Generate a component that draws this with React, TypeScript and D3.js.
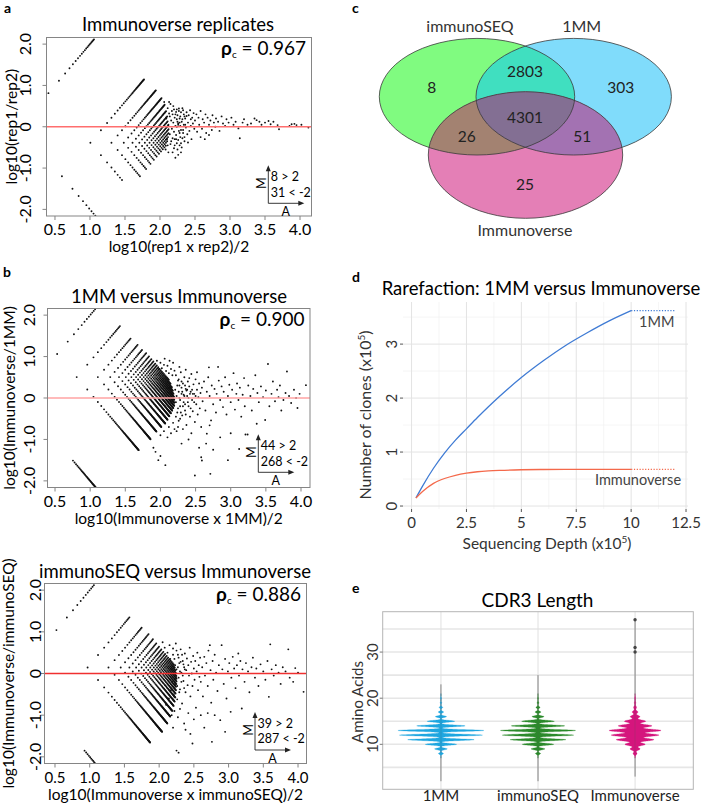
import React from "react";
import * as d3 from "d3";

const FONT = "Lato, 'Open Sans', 'DejaVu Sans', sans-serif";

// ================= MA plots (panels a, b) =================
// Observed count pairs stored as rows of integer count indices.
// count = unit * index ; index 0 -> pseudo count 1.
const maXTicks = [0.5, 1, 1.5, 2, 2.5, 3, 3.5, 4];
const maYTicks = [-2, -1, 0, 1, 2];
const maYTickLabels = ["-2.0", "-1.0", "0", "1.0", "2.0"];

// Panel a: Immunoverse replicates — rows: [rep2 index, rep1 index from, rep1 index to]
const repUnits = [6.5, 15.8];
const repRows = [
  [0, 1, 20], [1, 0, 34], [2, 0, 37], [3, 0, 36], [4, 0, 33], [5, 0, 29], [6, 0, 26],
  [7, 0, 23], [8, 0, 21], [9, 0, 0], [9, 2, 19], [10, 0, 0], [10, 2, 17], [11, 0, 0],
  [11, 2, 15], [12, 2, 13], [13, 2, 11],
];
const repScatter = [
  [2.06, 0.6], [2.08, -0.55], [2.09, 0.2], [2.1, -0.3], [2.11, 0.45], [2.12, -0.62], [2.12, 0.05],
  [2.13, 0.32], [2.14, -0.18], [2.15, 0.55], [2.15, -0.42], [2.16, 0.15], [2.17, -0.05], [2.17, 0.38],
  [2.18, -0.28], [2.19, 0.1], [2.19, 0.5], [2.2, -0.12], [2.2, -0.52], [2.21, 0.22], [2.22, 0.02],
  [2.23, 0.36], [2.23, -0.2], [2.24, -0.4], [2.25, 0.12], [2.25, 0.28], [2.26, -0.32], [2.27, 0.44],
  [2.27, -0.1], [2.28, 0.2], [2.29, -0.25], [2.29, 0.02], [2.3, 0.35], [2.31, -0.5], [2.32, 0.18],
  [2.33, -0.15], [2.34, 0.05], [2.35, 0.25], [2.11, -0.45], [2.13, 0.6], [2.14, 0.25], [2.16, -0.35],
  [2.18, 0.3], [2.21, -0.3], [2.24, 0.42], [2.26, 0.08], [2.28, -0.45], [2.3, -0.08], [2.33, 0.4],
  [2.35, -0.35],
  [2.18, -0.62], [2.2, 0.42], [2.21, -0.45], [2.22, 0.3], [2.23, -0.3], [2.24, 0.18], [2.25, -0.55],
  [2.26, 0.05], [2.27, 0.38], [2.28, -0.15], [2.29, 0.25], [2.3, -0.4], [2.31, 0.12], [2.32, 0.45],
  [2.33, -0.08], [2.34, 0.3], [2.35, -0.25], [2.36, 0.2], [2.37, -0.02], [2.38, 0.35], [2.39, -0.18],
  [2.4, 0.1], [2.41, 0.28], [2.42, -0.1], [2.43, 0.4], [2.44, 0.02], [2.45, -0.3], [2.46, 0.22],
  [2.47, 0.08], [2.48, 0.33], [2.49, -0.05], [2.5, 0.15], [2.22, -0.75], [2.26, -0.68], [2.3, -0.62],
  [2.24, 0.0], [2.28, 0.1], [2.32, -0.28], [2.36, 0.05], [2.4, -0.38], [2.44, 0.18], [2.38, 0.26],
  [2.52, 0.3], [2.53, -0.12], [2.55, 0.22], [2.56, 0.05], [2.58, 0.38], [2.6, -0.05], [2.61, 0.18],
  [2.63, 0.1], [2.65, 0.3], [2.66, -0.15], [2.68, 0.22], [2.7, 0.05], [2.72, 0.15], [2.74, -0.08],
  [2.75, 0.28], [2.77, 0.1], [2.79, 0.0], [2.8, 0.2], [2.83, 0.12], [2.85, -0.1], [2.88, 0.25],
  [2.9, 0.08], [2.93, 0.02], [2.95, 0.18], [2.98, 0.1], [2.58, -0.25], [2.64, -0.3], [2.7, -0.2],
  [3.02, 0.22], [3.05, 0.05], [3.08, 0.12], [3.12, -0.04], [3.14, -0.28], [3.18, 0.1], [3.2, 0.18],
  [3.25, 0.05], [3.3, 0.08], [3.35, 0.2], [3.38, 0.16], [3.42, 0.12], [3.45, 0.05], [3.5, 0.1],
  [3.55, 0.14], [3.58, 0.06], [3.62, 0.12], [3.68, 0.04], [3.7, -0.06], [3.85, 0.02], [3.88, 0.06],
  [3.92, 0.07], [3.95, 0.04], [4.02, 0.05], [4.12, -0.02],
];

// Panel b: 1MM vs Immunoverse — rows: [Immunoverse index, 1MM index from, 1MM index to]
const mmUnits = [11.5, 3.6];
const mmRows = [
  [0, 9, 45], [1, 0, 58], [2, 0, 63], [3, 0, 62], [4, 0, 64], [5, 0, 66], [6, 0, 64], [7, 0, 62],
  [8, 0, 60], [9, 0, 58], [10, 0, 56], [11, 0, 54], [12, 0, 50], [13, 0, 46], [14, 1, 42],
  [15, 1, 38], [16, 1, 34], [17, 1, 30], [18, 3, 26], [19, 5, 22],
];
const mmScatter = [
  [1.95, 0.9], [2.0, 0.85], [2.02, 0.72], [2.05, 0.8], [2.08, 0.65], [2.1, 0.78], [2.12, 0.6],
  [2.15, 0.7], [2.17, 0.55], [2.2, 0.66], [2.18, 0.85], [2.06, 0.95], [2.13, 0.9], [1.98, 0.7],
  [2.0, -0.9], [2.05, -0.8], [2.1, -0.95], [2.12, -0.7], [2.15, -0.85], [2.18, -0.6], [2.2, -0.75],
  [2.22, -0.45], [2.25, -0.7], [2.28, -0.5], [2.21, 0.2], [2.22, -0.1], [2.24, 0.3], [2.25, -0.25],
  [2.26, 0.45], [2.27, 0.0], [2.29, -0.35], [2.3, 0.4], [2.31, 0.15], [2.32, -0.2], [2.34, 0.05],
  [2.35, 0.3], [2.36, -0.4], [2.38, 0.2], [2.39, -0.1], [2.41, 0.48], [2.43, -0.25], [2.46, 0.1],
  [2.22, 0.55], [2.24, -0.35], [2.25, 0.42], [2.26, -0.55], [2.27, 0.3], [2.28, -0.2], [2.29, 0.62],
  [2.3, 0.1], [2.31, -0.42], [2.32, 0.35], [2.33, -0.1], [2.34, 0.5], [2.35, -0.3], [2.36, 0.22],
  [2.37, -0.65], [2.38, 0.05], [2.39, 0.4], [2.4, -0.2], [2.41, 0.28], [2.42, -0.45], [2.43, 0.15],
  [2.44, 0.58], [2.45, -0.05], [2.46, -0.32], [2.47, 0.33], [2.48, 0.1], [2.49, -0.58], [2.5, 0.45],
  [2.51, -0.15], [2.52, 0.2], [2.53, -0.4], [2.54, 0.02], [2.55, 0.35], [2.56, -0.25], [2.57, 0.12],
  [2.58, -0.7], [2.59, 0.25], [2.6, -0.08], [2.23, 0.05], [2.26, 0.15], [2.28, -0.05], [2.3, 0.25],
  [2.33, 0.08], [2.35, -0.15], [2.37, 0.18], [2.4, 0.0], [2.42, 0.1], [2.45, 0.2], [2.48, -0.1],
  [2.5, 0.05], [2.23, -0.8], [2.27, 0.75], [2.32, -0.75], [2.36, 0.68], [2.44, -0.85], [2.52, 0.62],
  [2.3, -1.1], [2.4, -1.0], [2.0, -1.4], [1.97, -1.5], [2.07, -1.62], [1.9, -1.2], [1.93, -1.3],
  [2.62, 0.4], [2.64, -0.3], [2.66, 0.15], [2.66, -0.86], [2.68, 0.5], [2.69, 0.74], [2.7, -0.66],
  [2.7, 0.05], [2.72, -0.54], [2.73, 0.3], [2.75, -0.15], [2.77, 0.22], [2.79, -0.35], [2.8, 0.1],
  [2.82, 0.75], [2.83, 0.42], [2.85, -0.05], [2.87, 0.28], [2.89, -0.22], [2.9, 0.15], [2.92, 0.5],
  [2.94, -0.4], [2.96, 0.05], [2.98, 0.32], [3.0, -0.1], [3.02, 0.2], [3.04, 0.6], [3.06, -0.28],
  [3.08, 0.1], [3.09, 0.35], [3.11, -0.05], [3.13, 0.25], [3.15, -0.45], [3.17, 0.08], [3.19, 0.48],
  [3.2, -0.2], [3.21, -0.88], [3.24, -0.88], [3.25, 0.3], [3.28, 0.05], [3.3, -0.3], [3.32, 0.22],
  [3.35, 0.55], [3.37, -0.62], [3.38, 0.12], [3.4, -0.1], [3.43, 0.28], [3.46, 0.02], [3.49, -0.53],
  [3.5, 0.18], [3.53, 0.82], [3.55, -0.2], [3.58, 0.1], [3.6, 0.4], [3.63, -0.08], [3.66, 0.2],
  [3.68, 0.02], [3.7, 0.3], [3.72, -0.3], [3.75, -0.05], [3.78, 0.12], [3.8, 0.64], [3.83, 0.05],
  [3.86, -0.12], [3.9, 0.2], [3.93, 0.0], [3.95, -0.24], [3.98, 0.1], [4.07, 0.31],
  [2.58, -1.43], [2.59, -1.51], [2.71, -1.83], [2.96, -1.5], [3.12, -1.23], [2.49, -1.87],
  [2.65, -1.1], [2.85, -0.95], [2.55, -1.2], [3.0, -0.85], [2.75, -1.25],
];

// Panel b (lower): immunoSEQ vs Immunoverse — rows: [Immunoverse index, immunoSEQ index from, to]
const seqUnits = [11, 7.9];
const seqRows = [
  [0, 9, 20], [1, 0, 63], [2, 0, 70], [3, 0, 66], [4, 0, 60], [5, 0, 55], [6, 0, 50], [7, 0, 46],
  [8, 0, 42], [9, 0, 38], [10, 0, 35], [11, 0, 32], [12, 0, 30], [13, 1, 28], [14, 1, 26],
  [15, 1, 24], [16, 1, 22], [17, 2, 20], [18, 2, 18], [19, 3, 16],
];
const seqScatter = [
  [2.05, 0.75], [2.08, 0.62], [2.1, -0.75], [2.12, 0.5], [2.14, -0.6], [2.15, 0.68], [2.16, 0.35],
  [2.17, -0.4], [2.18, 0.1], [2.19, -0.2], [2.2, 0.45], [2.21, 0.0], [2.22, -0.55], [2.23, 0.2],
  [2.24, -0.1], [2.25, 0.55], [2.26, -0.3], [2.27, 0.15], [2.28, 0.38], [2.29, -0.45], [2.3, 0.05],
  [2.31, 0.28], [2.32, -0.2], [2.33, 0.45], [2.34, -0.05], [2.35, 0.22], [2.36, -0.35], [2.37, 0.1],
  [2.2, 0.6], [2.21, -0.5], [2.22, 0.35], [2.23, -0.25], [2.24, 0.72], [2.25, 0.1], [2.26, -0.62],
  [2.27, 0.45], [2.28, -0.1], [2.29, 0.25], [2.3, -0.38], [2.31, 0.58], [2.32, 0.02], [2.33, -0.72],
  [2.34, 0.3], [2.35, -0.18], [2.36, 0.15], [2.37, 0.48], [2.38, -0.45], [2.39, 0.08], [2.4, 0.36],
  [2.41, -0.28], [2.42, 0.2], [2.43, -0.05], [2.44, 0.62], [2.45, -0.55], [2.46, 0.28], [2.47, 0.0],
  [2.48, -0.3], [2.49, 0.42], [2.5, 0.12], [2.51, -0.15], [2.52, 0.3], [2.53, -0.82], [2.54, 0.05],
  [2.55, 0.5], [2.56, -0.4], [2.57, 0.2], [2.58, -0.08], [2.59, 0.38], [2.6, -0.2],
  [2.22, -0.9], [2.27, -1.05], [2.3, -0.85], [2.36, -1.2], [2.42, -0.95], [2.25, -1.85], [2.28, -1.9],
  [2.38, -1.35], [2.48, -1.68], [2.5, -1.1], [2.45, -1.45], [2.18, -1.0], [2.2, -1.3],
  [2.62, 0.15], [2.63, -0.55], [2.65, 0.4], [2.66, -0.05], [2.68, 0.25], [2.7, -0.3], [2.71, 0.55],
  [2.73, 0.68], [2.74, 0.08], [2.75, -0.7], [2.77, 0.3], [2.78, -0.15], [2.8, 0.45], [2.82, 0.02],
  [2.84, -0.42], [2.86, 0.2], [2.88, -1.12], [2.9, 0.68], [2.91, 0.1], [2.93, -0.25], [2.95, 0.35],
  [2.97, -0.6], [2.99, 0.05], [3.01, 0.25], [3.03, -0.92], [3.04, -0.1], [3.06, 0.4], [3.08, 0.12],
  [3.1, -0.35], [3.12, 0.2], [3.14, 0.48], [3.15, -0.05], [3.17, 0.3], [3.19, -0.84], [3.2, 0.1],
  [2.76, -1.64], [2.65, -1.3], [2.8, -1.0], [2.95, -1.4], [2.6, -1.0], [2.7, -0.95],
  [3.23, -0.2], [3.25, 0.25], [3.28, 0.05], [3.3, -0.45], [3.33, 0.15], [3.35, 0.38], [3.38, -0.1],
  [3.4, 0.12], [3.43, -0.3], [3.46, 0.22], [3.5, 0.05], [3.53, -0.15], [3.56, 0.3], [3.58, -0.56],
  [3.6, 0.7], [3.62, 0.1], [3.65, -0.05], [3.68, 0.2], [3.72, 0.02], [3.75, -0.25], [3.78, 0.15],
  [3.82, 0.05], [3.86, 0.58], [3.88, -0.1], [3.93, -0.2], [3.96, 0.13], [4.0, 0.02], [4.08, -0.44],
];

// ================= Venn (panel c) =================
const vennSetNames = ["immunoSEQ", "1MM", "Immunoverse"];
const vennRegionCounts = [8, 303, 25, 2803, 26, 51, 4301]; // S only, M only, I only, S∩M, S∩I, M∩I, all

// ================= Rarefaction (panel d) =================
const rfDepth = [0.2, 0.5, 1, 1.5, 2, 2.5, 3, 3.5, 4, 5, 6, 7, 8, 9, 10];
const rf1MM = [0.15, 0.37, 0.7, 0.98, 1.22, 1.43, 1.64, 1.84, 2.03, 2.38, 2.69, 2.97, 3.21, 3.43, 3.62];
const rfImmunoverse = [0.15, 0.27, 0.42, 0.51, 0.57, 0.61, 0.635, 0.65, 0.66, 0.672, 0.677, 0.679, 0.68, 0.68, 0.68];
const rfExtrapDepth = [10, 12];
const rf1MMExtrap = [3.62, 3.62];
const rfImmunoverseExtrap = [0.68, 0.68];
const rfXTicks = [0, 2.5, 5, 7.5, 10, 12.5];
const rfYTicks = [0, 1, 2, 3];

// ================= CDR3 length (panel e) =================
const cdrCats = ["1MM", "immunoSEQ", "Immunoverse"];
const cdrLengths = [8, 9, 10, 11, 12, 13, 14, 15, 16, 17, 18, 19, 20];
const cdrPct1MM = [1.3, 3.3, 8.2, 17.3, 21.6, 22.4, 12.6, 7.2, 2.9, 1.4, 0.9, 0.4, 0.3];
const cdrPctSEQ = [1.4, 3.8, 8.7, 15.3, 19.6, 20.7, 14.7, 9.0, 3.3, 1.6, 1.1, 0.5, 0.3];
const cdrPctIV = [1.6, 4.1, 8.2, 15.2, 19.3, 21.0, 13.6, 8.6, 3.9, 2.3, 1.2, 0.6, 0.4];
const cdrRange = [[2, 23], [2, 25], [3, 37]];
const cdrOutliersIV = [30, 31, 37];
const cdrYTicks = [10, 20, 30];

// ---------- helpers ----------
function latticePoints(rows: number[][], units: number[], fixedIsNumerator: boolean) {
  const pts: number[][] = [];
  for (const [f, a, b] of rows) {
    for (let k = a; k <= b; k++) {
      const i = fixedIsNumerator ? f : k;
      const j = fixedIsNumerator ? k : f;
      const c1 = i === 0 ? 1 : units[0] * i;
      const c2 = j === 0 ? 1 : units[1] * j;
      const l1 = Math.log10(c1), l2 = Math.log10(c2);
      pts.push([(l1 + l2) / 2, l1 - l2]);
    }
  }
  return pts;
}

function VText(props: any) {
  const { x, y, children, ...rest } = props;
  return (
    <text transform={`translate(${x},${y}) rotate(-90)`} textAnchor="middle" dy="0.35em" {...rest}>
      {children}
    </text>
  );
}

type MACfg = {
  id: string; title: string; titleX: number; titleY: number;
  box: number[]; xDomain: number[];
  xLabel: string; yLabel: string;
  xTickBase: number; xTickSize: number; xLabelBase: number; yTickX: number; yLabelX: number;
  rho: string; over: string; under: string; legend: number[];
  red: string; redW: number; pts: number[][];
};

function MAPanel({ c }: { c: MACfg }) {
  const [x0, y0, x1, y1] = c.box;
  const x = d3.scaleLinear().domain(c.xDomain).range([x0, x1]);
  const y = d3.scaleLinear().domain([-2.16, 2.16]).range([y1, y0]);
  const [lx, ly] = c.legend;
  return (
    <g>
      <defs>
        <clipPath id={`clip-${c.id}`}>
          <rect x={x0} y={y0} width={x1 - x0} height={y1 - y0} />
        </clipPath>
      </defs>
      <text x={c.titleX} y={c.titleY} textAnchor="middle" fontSize={18.5}>{c.title}</text>
      <g clipPath={`url(#clip-${c.id})`}>
        {c.pts.map((p, k) => (
          <circle key={k} cx={x(p[0])} cy={y(p[1])} r={0.95} fill="#111" />
        ))}
        <line x1={x0} x2={x1} y1={y(0)} y2={y(0)} stroke={c.red} strokeWidth={c.redW} />
      </g>
      <rect x={x0} y={y0} width={x1 - x0} height={y1 - y0} fill="none" stroke="#858585" strokeWidth={1} />
      {maXTicks.map((t) => (
        <g key={t}>
          <line x1={x(t)} x2={x(t)} y1={y1} y2={y1 + 4} stroke="#858585" />
          <text x={x(t)} y={c.xTickBase} textAnchor="middle" fontSize={c.xTickSize}>{t.toFixed(1)}</text>
        </g>
      ))}
      {maYTicks.map((t, k) => (
        <g key={t}>
          <line x1={x0 - 4} x2={x0} y1={y(t)} y2={y(t)} stroke="#858585" />
          <VText x={c.yTickX} y={y(t)} fontSize={16}>{maYTickLabels[k]}</VText>
        </g>
      ))}
      <text x={(x0 + x1) / 2} y={c.xLabelBase} textAnchor="middle" fontSize={15.5}>{c.xLabel}</text>
      <VText x={c.yLabelX} y={(y0 + y1) / 2} fontSize={15.5}>{c.yLabel}</VText>
      <text x={x1 - 5.5} y={y0 + 17.5} textAnchor="end" fontSize={19}>
        <tspan fontWeight="bold">ρ</tspan>
        <tspan fontSize={10} dy={3}>c</tspan>
        <tspan dy={-3}>{` = ${c.rho}`}</tspan>
      </text>
      <g stroke="#222" strokeWidth={0.9}>
        <line x1={lx} y1={ly} x2={lx} y2={ly - 34} />
        <line x1={lx} y1={ly} x2={lx + 32} y2={ly} />
      </g>
      <path d={`M${lx},${ly - 38} l-2.5,6 h5 z`} fill="#222" />
      <path d={`M${lx + 36},${ly} l-6,-2.5 v5 z`} fill="#222" />
      <text x={lx + 2.5} y={ly - 26.5} dy="0.35em" fontSize={12.5}>{c.over}</text>
      <text x={lx + 2.5} y={ly - 11} dy="0.35em" fontSize={12.5}>{c.under}</text>
      <VText x={lx - 6.5} y={ly - 20} fontSize={12.5}>M</VText>
      <text x={lx + 17.5} y={ly + 8.5} dy="0.35em" textAnchor="middle" fontSize={12.5}>A</text>
    </g>
  );
}

function VennPanel() {
  const G = { cx: 477, cy: 96.7, rx: 97.7, ry: 58.3 };
  const B = { cx: 573.7, cy: 96.7, rx: 97.7, ry: 58.3 };
  const P = { cx: 525.5, cy: 155, rx: 97.2, ry: 63.3 };
  const e = (o: any, fill: string, extra: any = {}) => (
    <ellipse cx={o.cx} cy={o.cy} rx={o.rx} ry={o.ry} fill={fill} {...extra} />
  );
  const regionPos = [
    [431.7, 87.3], [620.7, 87.3], [525, 185], [525, 71.7], [466.7, 136.7], [582.3, 136.7], [525, 117.3],
  ];
  const setPos = [[470, 26.7], [581.7, 26.7], [525, 230]];
  return (
    <g>
      <defs>
        <clipPath id="venn-g">{e(G, "#000")}</clipPath>
        <clipPath id="venn-b">{e(B, "#000")}</clipPath>
      </defs>
      {e(G, "#80fb80")}
      {e(B, "#80dcfb")}
      {e(B, "#40dfc0", { clipPath: "url(#venn-g)" })}
      {e(P, "#e47fb6")}
      {e(P, "#a38271", { clipPath: "url(#venn-g)" })}
      {e(P, "#a372b2", { clipPath: "url(#venn-b)" })}
      <g clipPath="url(#venn-g)">{e(P, "#836f93", { clipPath: "url(#venn-b)" })}</g>
      {[G, B, P].map((o, k) => (
        <ellipse key={k} cx={o.cx} cy={o.cy} rx={o.rx} ry={o.ry} fill="none" stroke="#3a3a3a" strokeWidth={0.8} />
      ))}
      {vennRegionCounts.map((v, k) => (
        <text key={k} x={regionPos[k][0]} y={regionPos[k][1]} dy="0.35em" textAnchor="middle" fontSize={15.5} fill="#222">{v}</text>
      ))}
      {vennSetNames.map((n, k) => (
        <text key={n} x={setPos[k][0]} y={setPos[k][1]} dy="0.35em" textAnchor="middle" fontSize={16} fill="#333">{n}</text>
      ))}
    </g>
  );
}

function RarefactionPanel() {
  const x0 = 403, x1 = 688, y0 = 302, y1 = 509;
  const x = d3.scaleLinear().domain([-0.39, 12.59]).range([x0, x1]);
  const y = d3.scaleLinear().domain([-0.055, 3.78]).range([y1, y0]);
  const line = d3.line<number[]>().x((d) => x(d[0])).y((d) => y(d[1])).curve(d3.curveMonotoneX);
  const s1 = rfDepth.map((d, i) => [d, rf1MM[i]]);
  const s2 = rfDepth.map((d, i) => [d, rfImmunoverse[i]]);
  const e1 = rfExtrapDepth.map((d, i) => [d, rf1MMExtrap[i]]);
  const e2 = rfExtrapDepth.map((d, i) => [d, rfImmunoverseExtrap[i]]);
  const minorX = [1.25, 3.75, 6.25, 8.75, 11.25];
  const minorY = [0.5, 1.5, 2.5, 3.5];
  return (
    <g>
      <text x={541} y={295} textAnchor="middle" fontSize={18.5}>Rarefaction: 1MM versus Immunoverse</text>
      {minorX.map((t) => <line key={"mx" + t} x1={x(t)} x2={x(t)} y1={y0} y2={y1} stroke="#f0f0f0" strokeWidth={0.7} />)}
      {minorY.map((t) => <line key={"my" + t} x1={x0} x2={x1} y1={y(t)} y2={y(t)} stroke="#f0f0f0" strokeWidth={0.7} />)}
      {rfXTicks.map((t) => <line key={"gx" + t} x1={x(t)} x2={x(t)} y1={y0} y2={y1} stroke="#e3e3e3" strokeWidth={1} />)}
      {rfYTicks.map((t) => <line key={"gy" + t} x1={x0} x2={x1} y1={y(t)} y2={y(t)} stroke="#e3e3e3" strokeWidth={1} />)}
      <path d={line(s1) || ""} fill="none" stroke="#3f7bd4" strokeWidth={1.3} />
      <path d={line(s2) || ""} fill="none" stroke="#f4694b" strokeWidth={1.3} />
      <path d={line(e1) || ""} fill="none" stroke="#3f7bd4" strokeWidth={1.1} strokeDasharray="1.2,1.6" />
      <path d={line(e2) || ""} fill="none" stroke="#f4694b" strokeWidth={1.1} strokeDasharray="1.2,1.6" />
      {rfXTicks.map((t) => (
        <g key={"tx" + t}>
          <line x1={x(t)} x2={x(t)} y1={y1} y2={y1 + 3} stroke="#555" />
          <text x={x(t)} y={528} textAnchor="middle" fontSize={15} fill="#333">{String(t)}</text>
        </g>
      ))}
      {rfYTicks.map((t) => (
        <g key={"ty" + t}>
          <line x1={x0 - 3} x2={x0} y1={y(t)} y2={y(t)} stroke="#555" />
          <VText x={392} y={y(t)} fontSize={15} fill="#333">{String(t)}</VText>
        </g>
      ))}
      <text x={656.7} y={321.7} dy="0.35em" textAnchor="middle" fontSize={14.5} fill="#444">1MM</text>
      <text x={638} y={480} dy="0.35em" textAnchor="middle" fontSize={14.5} fill="#444">Immunoverse</text>
      <text x={547} y={548.5} textAnchor="middle" fontSize={15.5} fill="#333">
        Sequencing Depth (x10<tspan fontSize={10} dy={-6}>5</tspan><tspan dy={6}>)</tspan>
      </text>
      <text transform="translate(365,415) rotate(-90)" textAnchor="middle" dy="0.35em" fontSize={16} fill="#333">
        Number of clones (x10<tspan fontSize={10} dy={-6}>5</tspan><tspan dy={6}>)</tspan>
      </text>
    </g>
  );
}

function CDR3Panel() {
  const x0 = 382.7, x1 = 693.3, y0 = 611.7, y1 = 789.3;
  const x = d3.scalePoint().domain(cdrCats).range([x0, x1]).padding(0.6);
  const y = d3.scaleLinear().domain([0.25, 38.75]).range([y1, y0]);
  const pcts = [cdrPct1MM, cdrPctSEQ, cdrPctIV];
  const colors = ["#1ea6e0", "#2b8a2b", "#d5157d"];
  const bws = [0.18, 0.19, 0.28];
  const dens = (k: number, v: number) =>
    d3.sum(cdrLengths, (L, i) => (pcts[k][i] / 100) * Math.exp(-0.5 * ((v - L) / bws[k]) ** 2) / (bws[k] * Math.sqrt(2 * Math.PI)));
  const grids = d3.range(0, cdrCats.length).map((k) => {
    const [lo, hi] = [cdrLengths[0] - 1, cdrLengths[cdrLengths.length - 1] + 1];
    return d3.range(lo, hi + 0.0001, 0.02).map((v) => ({ v, d: dens(k, v) }));
  });
  const maxD = d3.max(grids[0], (g) => g.d) || 1;
  const w = d3.scaleLinear().domain([0, maxD]).range([0, 43]);
  const gridY = [5, 10, 15, 20, 25, 30, 35];
  return (
    <g>
      <text x={537.5} y={606.5} textAnchor="middle" fontSize={19}>CDR3 Length</text>
      {gridY.map((t) => <line key={t} x1={x0} x2={x1} y1={y(t)} y2={y(t)} stroke="#e6e6e6" strokeWidth={1.6} />)}
      {cdrCats.map((c) => <line key={c} x1={x(c)} x2={x(c)} y1={y0} y2={y1} stroke="#e0e0e0" strokeWidth={1} />)}
      <rect x={x0} y={y0} width={x1 - x0} height={y1 - y0} fill="none" stroke="#b5b5b5" strokeWidth={1} />
      {cdrCats.map((c, k) => {
        const cx = x(c) as number;
        const area = d3.area<any>().y((g) => y(g.v)).x0((g) => cx - w(g.d)).x1((g) => cx + w(g.d));
        return (
          <g key={c}>
            <line x1={cx} x2={cx} y1={y(cdrRange[k][0])} y2={y(cdrRange[k][1])} stroke="#6a6a6a" strokeWidth={0.8} />
            <path d={area(grids[k]) || ""} fill={colors[k]} stroke={colors[k]} strokeWidth={0.3} />
            <line x1={cx} x2={cx} y1={y(cdrLengths[0])} y2={y(cdrLengths[cdrLengths.length - 1])} stroke="#555" strokeOpacity={0.35} strokeWidth={0.6} />
          </g>
        );
      })}
      {cdrOutliersIV.map((v) => <circle key={v} cx={x("Immunoverse") as number} cy={y(v)} r={1.7} fill="#444" />)}
      {cdrYTicks.map((t) => (
        <g key={t}>
          <line x1={x0 - 3} x2={x0} y1={y(t)} y2={y(t)} stroke="#777" />
          <VText x={373} y={y(t)} fontSize={15} fill="#333">{String(t)}</VText>
        </g>
      ))}
      <VText x={358} y={702} fontSize={15} fill="#333">Amino Acids</VText>
      {cdrCats.map((c) => (
        <text key={c} x={x(c)} y={801} textAnchor="middle" fontSize={15} fill="#222">{c}</text>
      ))}
    </g>
  );
}

export default function App() {
  const panels: MACfg[] = [
    {
      id: "a", title: "Immunoverse replicates", titleX: 178, titleY: 31,
      box: [46.5, 37.5, 311.5, 216], xDomain: [0.379, 4.164],
      xLabel: "log10(rep1 x rep2)/2", yLabel: "log10(rep1/rep2)",
      xTickBase: 235, xTickSize: 16, xLabelBase: 252, yTickX: 25.5, yLabelX: 11.5,
      rho: "0.967", over: "8 > 2", under: "31 < -2", legend: [268.3, 203.3],
      red: "#ff6e6e", redW: 1.5,
      pts: [...latticePoints(repRows, repUnits, false), ...repScatter],
    },
    {
      id: "b", title: "1MM versus Immunoverse", titleX: 179, titleY: 303,
      box: [47.5, 308.5, 310, 487.5], xDomain: [0.393, 4.128],
      xLabel: "log10(Immunoverse x 1MM)/2", yLabel: "log10(Immunoverse/1MM)",
      xTickBase: 507, xTickSize: 16, xLabelBase: 524, yTickX: 29, yLabelX: 10,
      rho: "0.900", over: "44 > 2", under: "268 < -2", legend: [258.3, 472.3],
      red: "#ffa3a3", redW: 1.7,
      pts: [...latticePoints(mmRows, mmUnits, true), ...mmScatter],
    },
    {
      id: "b2", title: "immunoSEQ versus Immunoverse", titleX: 175, titleY: 578,
      box: [44.5, 583.5, 306.5, 763.5], xDomain: [0.349, 4.122],
      xLabel: "log10(Immunoverse x immunoSEQ)/2", yLabel: "log10(Immunoverse/immunoSEQ)",
      xTickBase: 782.5, xTickSize: 15, xLabelBase: 799.5, yTickX: 35, yLabelX: 9,
      rho: "0.886", over: "39 > 2", under: "287 < -2", legend: [255, 750],
      red: "#f03030", redW: 1.3,
      pts: [...latticePoints(seqRows, seqUnits, true), ...seqScatter],
    },
  ];
  const letters = [["a", 4, 13], ["b", 3, 277], ["c", 352, 13], ["d", 352, 282], ["e", 352, 593]];
  return (
    <svg width={703} height={803} viewBox="0 0 703 803"
      style={{ position: "absolute", left: 0, top: 0, background: "#fff", fontFamily: FONT }}>
      <rect width={703} height={803} fill="#fff" />
      {panels.map((p) => <MAPanel key={p.id} c={p} />)}
      <VennPanel />
      <RarefactionPanel />
      <CDR3Panel />
      {letters.map(([t, lx, ly]) => (
        <text key={t as string} x={lx as number} y={ly as number} fontSize={14} fontWeight="bold">{t}</text>
      ))}
    </svg>
  );
}
